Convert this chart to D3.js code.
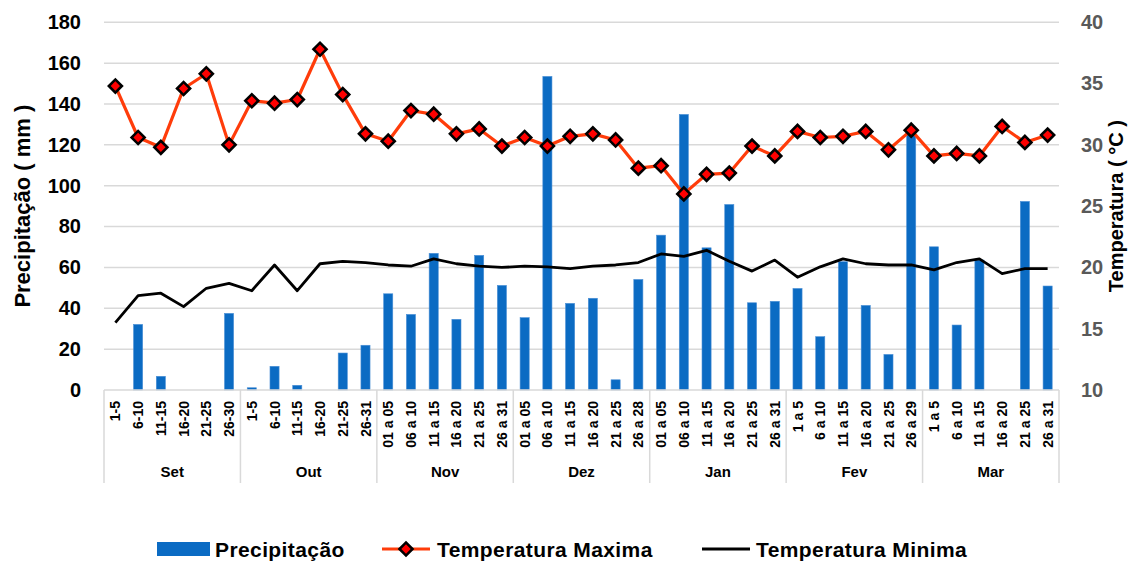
<!DOCTYPE html>
<html>
<head>
<meta charset="utf-8">
<script src="https://cdn.jsdelivr.net/npm/d3@7"></script>
<style>
  html, body { margin: 0; padding: 0; background: #fff; }
  svg { display: block; font-family: "Liberation Sans", Arial, sans-serif; font-weight: bold; }
</style>
</head>
<body>
<svg id="chart" width="1129" height="563"></svg>
<script>
const months = ["Set", "Out", "Nov", "Dez", "Jan", "Fev", "Mar"];
const periods = [
  "1-5", "6-10", "11-15", "16-20", "21-25", "26-30",
  "1-5", "6-10", "11-15", "16-20", "21-25", "26-31",
  "01 a 05", "06 a 10", "11 a 15", "16 a 20", "21 a 25", "26 a 31",
  "01 a 05", "06 a 10", "11 a 15", "16 a 20", "21 a 25", "26 a 28",
  "01 a 05", "06 a 10", "11 a 15", "16 a 20", "21 a 25", "26 a 31",
  "1 a 5", "6 a 10", "11 a 15", "16 a 20", "21 a 25", "26 a 29",
  "1 a 5", "6 a 10", "11 a 15", "16 a 20", "21 a 25", "26 a 31"
];
const precipitation = [
  0, 32.1, 6.7, 0, 0, 37.5,
  1.1, 11.6, 2.3, 0, 18.1, 21.9,
  47.1, 37.0, 66.9, 34.6, 65.9, 51.2,
  35.4, 153.5, 42.4, 44.9, 5.0, 54.1,
  75.8, 134.9, 69.6, 90.8, 42.7, 43.4,
  49.7, 26.1, 62.8, 41.4, 17.4, 128.0,
  70.1, 31.8, 63.6, 0, 92.3, 50.9
];
const tempMax = [
  34.8, 30.6, 29.8, 34.6, 35.8, 30.0,
  33.6, 33.4, 33.7, 37.8, 34.1, 30.9,
  30.3, 32.8, 32.5, 30.9, 31.3, 29.9,
  30.6, 29.9, 30.7, 30.9, 30.4, 28.1,
  28.3, 26.0, 27.6, 27.7, 29.9, 29.1,
  31.1, 30.6, 30.7, 31.1, 29.6, 31.2,
  29.1, 29.3, 29.1, 31.5, 30.2, 30.8
];
const tempMin = [
  15.5, 17.7, 17.9, 16.8, 18.3, 18.7,
  18.1, 20.2, 18.1, 20.3, 20.5, 20.4,
  20.2, 20.1, 20.7, 20.3, 20.1, 20.0,
  20.1, 20.05, 19.9, 20.1, 20.2, 20.4,
  21.1, 20.9, 21.4, 20.5, 19.7, 20.6,
  19.2, 20.05, 20.7, 20.3, 20.2, 20.2,
  19.8, 20.4, 20.7, 19.5, 19.9, 19.9
];
const leftTicks = [0, 20, 40, 60, 80, 100, 120, 140, 160, 180];
const rightTicks = [10, 15, 20, 25, 30, 35, 40];
const legendLabels = ["Precipitação", "Temperatura Maxima", "Temperatura Minima"];
const leftTitle = "Precipitação ( mm )";
const rightTitle = "Temperatura ( °C )";

const perMonth = periods.length / months.length;
const keys = periods.map((p, i) => months[Math.floor(i / perMonth)] + "|" + i);

const svg = d3.select("#chart");
const L = 104, R = 1059, T = 22.3, B = 390;

const x = d3.scaleBand().domain(keys).range([L, R]).paddingInner(0.6).paddingOuter(0.3);
const yL = d3.scaleLinear().domain([0, 180]).range([B, T]);
const yR = d3.scaleLinear().domain([10, 40]).range([B, T]);
const cx = k => x(k) + x.bandwidth() / 2;
const FONT = "Liberation Sans, Arial, sans-serif";

// gridlines
svg.append("g").selectAll("line").data(leftTicks.filter(d => d > 0)).join("line")
  .attr("x1", L).attr("x2", R)
  .attr("y1", d => yL(d)).attr("y2", d => yL(d))
  .attr("stroke", "#d9d9d9").attr("stroke-width", 1.5);

// left axis labels
const gL = svg.append("g").attr("transform", `translate(${L},0)`)
  .call(d3.axisLeft(yL).tickValues(leftTicks).tickSize(0).tickPadding(23));
gL.select(".domain").remove();
gL.selectAll("text").attr("font-size", 20).attr("font-weight", "bold")
  .attr("font-family", FONT).attr("fill", "#000");

// right axis labels
const gR = svg.append("g").attr("transform", `translate(${R},0)`)
  .call(d3.axisRight(yR).tickValues(rightTicks).tickSize(0).tickPadding(22));
gR.select(".domain").remove();
gR.selectAll("text").attr("font-size", 20).attr("font-weight", "bold")
  .attr("font-family", FONT).attr("fill", "#595959");

// axis titles
svg.append("text").attr("transform", `translate(30,${(T + B) / 2}) rotate(-90)`)
  .attr("text-anchor", "middle").attr("font-size", 22).attr("fill", "#000").text(leftTitle);
svg.append("text").attr("transform", `translate(1123,${(T + B) / 2}) rotate(-90)`)
  .attr("text-anchor", "middle").attr("font-size", 20).attr("fill", "#000").text(rightTitle);

// bars
svg.append("g").selectAll("rect").data(keys).join("rect")
  .attr("x", k => x(k)).attr("width", x.bandwidth())
  .attr("y", (k, i) => yL(precipitation[i]))
  .attr("height", (k, i) => B - yL(precipitation[i]))
  .attr("fill", "#0b6bc3").attr("stroke", "#4a8fd6").attr("stroke-width", 0.6);

// category axis
svg.append("line").attr("x1", L).attr("x2", R).attr("y1", B).attr("y2", B)
  .attr("stroke", "#d9d9d9").attr("stroke-width", 1.5);
svg.append("g").selectAll("line").data(d3.range(months.length + 1)).join("line")
  .attr("x1", m => L + m * (R - L) / months.length)
  .attr("x2", m => L + m * (R - L) / months.length)
  .attr("y1", B).attr("y2", 483)
  .attr("stroke", "#d9d9d9").attr("stroke-width", 1.5);

// period labels
svg.append("g").selectAll("text").data(keys).join("text")
  .attr("transform", k => `translate(${cx(k)},401) rotate(-90)`)
  .attr("text-anchor", "end").attr("dy", "0.36em")
  .attr("font-size", 14).attr("fill", "#000")
  .text((k, i) => periods[i]);

// month labels
svg.append("g").selectAll("text").data(months).join("text")
  .attr("x", (m, i) => L + (i + 0.5) * (R - L) / months.length)
  .attr("y", 477).attr("text-anchor", "middle")
  .attr("font-size", 15).attr("fill", "#000").text(m => m);

// min temperature line
const line = d3.line().x((d, i) => cx(keys[i])).y(d => yR(d));
svg.append("path").datum(tempMin).attr("d", line)
  .attr("fill", "none").attr("stroke", "#000").attr("stroke-width", 2.8)
  .attr("stroke-linejoin", "round");

// max temperature line + markers
svg.append("path").datum(tempMax).attr("d", line)
  .attr("fill", "none").attr("stroke", "#ff3c0a").attr("stroke-width", 3.2)
  .attr("stroke-linejoin", "round");
svg.append("g").selectAll("path").data(tempMax).join("path")
  .attr("transform", (d, i) => `translate(${cx(keys[i])},${yR(d)}) rotate(45)`)
  .attr("d", d3.symbol().type(d3.symbolSquare).size(85))
  .attr("fill", "#ff0000").attr("stroke", "#000").attr("stroke-width", 2.6)
  .attr("stroke-linejoin", "miter");

// legend
const lg = svg.append("g");
const ly = 549;
lg.append("rect").attr("x", 157).attr("y", 542).attr("width", 53).attr("height", 14).attr("fill", "#0b6bc3");
lg.append("text").attr("x", 215).attr("y", ly).attr("dy", "0.36em").attr("font-size", 21)
  .attr("letter-spacing", 0.4).text(legendLabels[0]);
lg.append("line").attr("x1", 382).attr("x2", 430).attr("y1", ly).attr("y2", ly)
  .attr("stroke", "#ff3c0a").attr("stroke-width", 3.2);
lg.append("path").attr("transform", `translate(406,${ly}) rotate(45)`)
  .attr("d", d3.symbol().type(d3.symbolSquare).size(85))
  .attr("fill", "#ff0000").attr("stroke", "#000").attr("stroke-width", 2.6);
lg.append("text").attr("x", 437).attr("y", ly).attr("dy", "0.36em").attr("font-size", 21)
  .attr("letter-spacing", 0.4).text(legendLabels[1]);
lg.append("line").attr("x1", 702).attr("x2", 750).attr("y1", ly).attr("y2", ly)
  .attr("stroke", "#000").attr("stroke-width", 3);
lg.append("text").attr("x", 756).attr("y", ly).attr("dy", "0.36em").attr("font-size", 21)
  .attr("letter-spacing", 0.4).text(legendLabels[2]);
</script>
</body>
</html>
